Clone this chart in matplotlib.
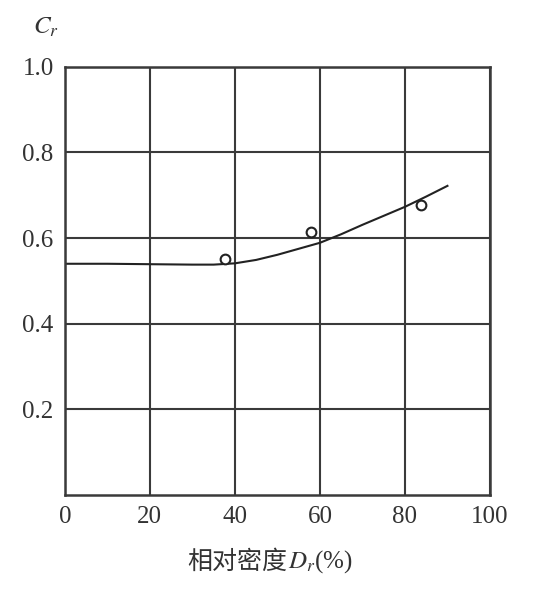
import numpy as np
import matplotlib.pyplot as plt

# measured points (relative density %, Cr)
dr_pts = [37.6, 57.9, 83.8]
cr_pts = [0.551, 0.614, 0.678]

# fitted curve
dr_curve = [0, 10, 20, 30, 35, 40, 45, 50, 55, 60, 65, 70, 75, 80, 85, 90]
cr_curve = [0.540, 0.540, 0.539, 0.538, 0.538, 0.541, 0.549, 0.561, 0.575,
            0.589, 0.609, 0.631, 0.652, 0.673, 0.697, 0.722]

xticks = [0, 20, 40, 60, 80, 100]
yticks = [0.2, 0.4, 0.6, 0.8, 1.0]

plt.rcParams['font.family'] = ['Liberation Serif', 'Noto Sans CJK SC']
plt.rcParams['mathtext.fontset'] = 'stix'

fig = plt.figure(figsize=(5.45, 5.97), dpi=100)
ax = fig.add_axes([0.119, 0.171, 0.780, 0.717])

ax.set_xlim(0, 100)
ax.set_ylim(0, 1.0)
ax.set_xticks(xticks)
ax.set_yticks(yticks)
ax.set_yticklabels(['%.1f' % v for v in yticks])
ax.tick_params(length=0, labelsize=18, pad=8, colors='#333333')
ax.grid(True, color='#3a3a3a', lw=1.5)
for s in ax.spines.values():
    s.set_color('#3a3a3a')
    s.set_linewidth(1.8)

ax.plot(dr_curve, cr_curve, color='#222222', lw=1.5)
ax.plot(dr_pts, cr_pts, 'o', mfc='white', mec='#222222', ms=7, mew=1.5)

# x label: Chinese part + math part side by side
fig.text(0.528, 0.059, '相对密度', fontsize=18, color='#333333',
         family=['Noto Sans CJK SC'], ha='right', va='center')
fig.text(0.528, 0.059, '$D_r$(%)', fontsize=18, color='#333333',
         ha='left', va='center')
fig.text(0.085, 0.955, '$C_r$', fontsize=18, color='#333333',
         ha='center', va='center')

fig.savefig('out.png', dpi=100)
